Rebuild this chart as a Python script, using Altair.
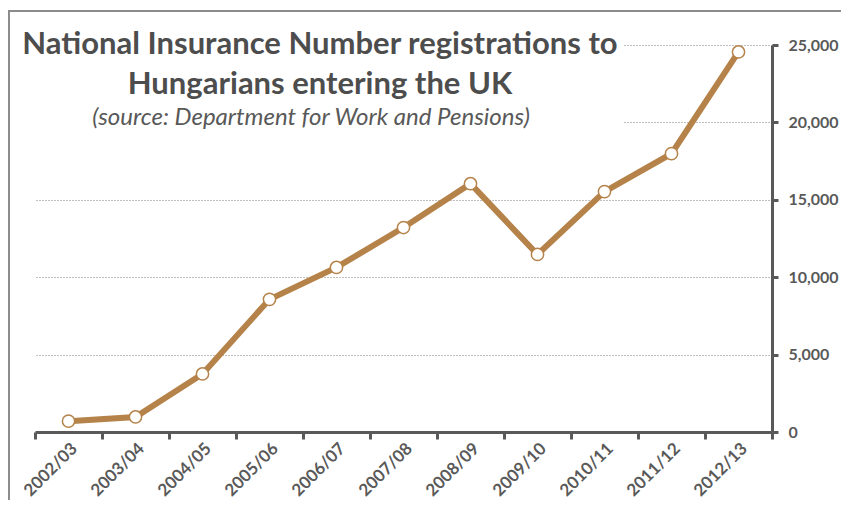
import altair as alt
import pandas as pd

years = ["2002/03", "2003/04", "2004/05", "2005/06", "2006/07", "2007/08",
         "2008/09", "2009/10", "2010/11", "2011/12", "2012/13"]
registrations = [700, 970, 3750, 8570, 10630, 13210, 16040, 11470, 15530, 17980, 24550]
y_ticks = [0, 5000, 10000, 15000, 20000, 25000]

title_1 = "National Insurance Number registrations to"
title_2 = "Hungarians entering the UK"
subtitle = "(source: Department  for Work and Pensions)"

df = pd.DataFrame({"year": years, "value": registrations})
one = pd.DataFrame({"k": [0]})

GRAY = "#595959"
LINE = "#B5834A"
W, H = 737, 387

x = alt.X("year:N", sort=years, title=None,
          scale=alt.Scale(type="band", paddingInner=0, paddingOuter=0),
          axis=alt.Axis(tickBand="extent", labelAngle=-45, labelFontSize=17,
                        labelFontWeight="bold", labelColor=GRAY, labelFont="Lato",
                        domainColor=GRAY, domainWidth=3, tickColor=GRAY,
                        tickWidth=3, tickSize=7, labelPadding=1, grid=False))
y = alt.Y("value:Q", title=None,
          scale=alt.Scale(domain=[0, 25000], nice=False),
          axis=alt.Axis(orient="right", values=y_ticks, format=",.0f",
                        labelFontSize=16, labelFontWeight="bold", labelColor=GRAY,
                        labelFont="Lato", domainColor=GRAY, domainWidth=3,
                        tickColor=GRAY, tickWidth=3, tickSize=6, labelPadding=10,
                        grid=True, gridColor="#7f7f7f", gridDash=[1, 2], gridWidth=1))

frame = alt.Chart(one).mark_rect(fill="transparent", stroke="#8c8c8c", strokeWidth=2).encode(
    x=alt.value(-26), x2=alt.value(1000), y=alt.value(-34), y2=alt.value(800))

cover = alt.Chart(one).mark_rect(fill="white").encode(
    x=alt.value(-15), x2=alt.value(588), y=alt.value(-30), y2=alt.value(95))

line = alt.Chart(df).mark_line(color=LINE, strokeWidth=6).encode(x=x, y=y)
points = alt.Chart(df).mark_point(filled=True, fill="white", stroke=LINE, strokeWidth=1.5,
                                  size=150, opacity=1).encode(x=x, y=y)

t1 = alt.Chart(one).mark_text(font="Lato", fontSize=31, fontWeight="bold", color="#4d4d4d",
                              align="center", baseline="middle").encode(
    x=alt.value(285), y=alt.value(0), text=alt.value(title_1))
t2 = alt.Chart(one).mark_text(font="Lato", fontSize=31, fontWeight="bold", color="#4d4d4d",
                              align="center", baseline="middle").encode(
    x=alt.value(285), y=alt.value(40), text=alt.value(title_2))
t3 = alt.Chart(one).mark_text(font="Lato", fontSize=24, fontStyle="italic", color=GRAY,
                              align="center", baseline="middle").encode(
    x=alt.value(276), y=alt.value(73), text=alt.value(subtitle))

chart = alt.layer(frame, cover, line, points, t1, t2, t3).properties(
    width=W, height=H,
    autosize=alt.AutoSizeParams(type="none"),
    padding={"left": 27, "top": 37, "right": 69, "bottom": 68},
).configure(background="white").configure_view(strokeWidth=0, stroke=None)

chart.save("out.html", embed_options={"renderer": "svg", "actions": False})
